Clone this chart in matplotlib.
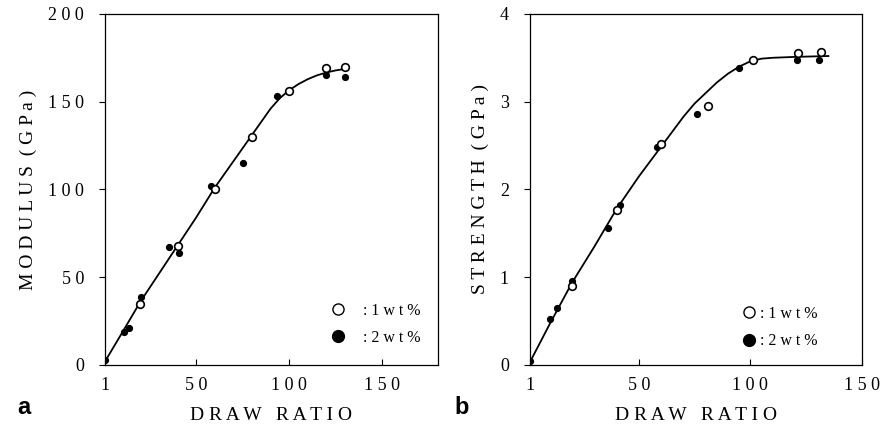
import matplotlib

matplotlib.use("Agg")
import matplotlib.pyplot as plt
from matplotlib.lines import Line2D

# ---- panel a: modulus vs draw ratio ----
mod_x_1wt = [20, 40, 60, 80, 100, 120, 130]
mod_y_1wt = [35, 68, 100, 130, 156, 169, 170]
mod_x_2wt = [1, 11, 14, 20.5, 35.5, 41, 58, 75, 93.5, 120, 130]
mod_y_2wt = [3, 19, 21, 39, 67, 64, 102, 115, 153, 165, 164]
mod_fit_x = [1, 10, 20, 30, 40, 50, 60, 70, 80, 90, 95, 100, 105, 110, 115, 120, 125, 131]
mod_fit_y = [2, 18, 36, 52, 68, 84, 101, 116, 131, 146, 152, 156.5, 160, 162.8, 165, 166.6, 167.8, 168.8]

# ---- panel b: strength vs draw ratio ----
str_x_1wt = [20, 40, 60, 81, 101, 121.5, 131.5]
str_y_1wt = [0.90, 1.77, 2.52, 2.95, 3.48, 3.56, 3.57]
str_x_2wt = [1, 10, 13, 20, 36, 41.5, 58, 76, 95, 121, 131]
str_y_2wt = [0.05, 0.52, 0.65, 0.96, 1.56, 1.82, 2.48, 2.86, 3.38, 3.47, 3.47]
str_fit_x = [1, 10, 20, 30, 40, 50, 60, 70, 75, 80, 85, 90, 95, 100, 105, 110, 120, 135]
str_fit_y = [0.03, 0.47, 0.94, 1.35, 1.78, 2.15, 2.49, 2.83, 2.98, 3.10, 3.22, 3.32, 3.40, 3.46, 3.49, 3.50, 3.51, 3.52]

x_ticks = [1, 50, 100, 150]
x_ticklabels = ["1", "5 0", "1 0 0", "1 5 0"]
mod_ticks = [0, 50, 100, 150, 200]
mod_ticklabels = ["0", "5 0", "1 0 0", "1 5 0", "2 0 0"]
str_ticks = [0, 1, 2, 3, 4]
str_ticklabels = ["0", "1", "2", "3", "4"]

SERIF = ["Liberation Serif", "DejaVu Serif"]
plt.rcParams["font.family"] = SERIF


def draw_panel(ax, fit_x, fit_y, x1, y1, x2, y2, xlim, ylim, yticks, yticklabels,
               ylabel, legend_anchor, text_pad):
    ax.plot(fit_x, fit_y, color="black", lw=1.3, zorder=2)
    ax.plot(x2, y2, "o", color="black", ms=4.2, zorder=3)
    ax.plot(x1, y1, "o", mfc="white", mec="black", mew=1.2, ms=5.5, zorder=4)

    ax.set_xlim(*xlim)
    ax.set_ylim(*ylim)
    ax.set_xticks(x_ticks)
    ax.set_xticklabels(x_ticklabels)
    ax.set_yticks(yticks)
    ax.set_yticklabels(yticklabels)
    ax.tick_params(axis="x", direction="in", length=4, width=0.8, pad=9, labelsize=13)
    ax.tick_params(axis="y", direction="out", length=4, width=0.8, pad=11, labelsize=13)
    for s in ax.spines.values():
        s.set_linewidth(0.9)

    ax.set_xlabel("D R A W   R A T I O", fontsize=14, labelpad=9)
    ax.set_ylabel(ylabel, fontsize=14, labelpad=8)

    handles = [
        Line2D([], [], ls="none", marker="o", mfc="white", mec="black", mew=1.0, ms=8),
        Line2D([], [], ls="none", marker="o", color="black", ms=8.5),
    ]
    ax.legend(handles, [": 1 w t %", ": 2 w t %"], loc="lower left",
              bbox_to_anchor=legend_anchor, frameon=False, fontsize=11.5,
              handlelength=1.0, handletextpad=text_pad, labelspacing=0.7,
              borderpad=0, borderaxespad=0)


fig = plt.figure(figsize=(8.86, 4.34), dpi=100)
ax_a = fig.add_axes([0.1185, 0.159, 0.3758, 0.809])
ax_b = fig.add_axes([0.598, 0.159, 0.3747, 0.809])

draw_panel(ax_a, mod_fit_x, mod_fit_y, mod_x_1wt, mod_y_1wt, mod_x_2wt, mod_y_2wt,
           (1, 180), (0, 200), mod_ticks, mod_ticklabels,
           "M O D U L U S  ( G P a )", (0.675, 0.055), 1.1)
draw_panel(ax_b, str_fit_x, str_fit_y, str_x_1wt, str_y_1wt, str_x_2wt, str_y_2wt,
           (1, 150), (0, 4), str_ticks, str_ticklabels,
           "S T R E N G T H  ( G P a )", (0.635, 0.045), 0.2)

fig.text(0.019, 0.045, "a", fontsize=17, fontweight="bold", family=["Liberation Sans", "DejaVu Sans"])
fig.text(0.513, 0.045, "b", fontsize=17, fontweight="bold", family=["Liberation Sans", "DejaVu Sans"])

fig.savefig("out.png", dpi=100)
